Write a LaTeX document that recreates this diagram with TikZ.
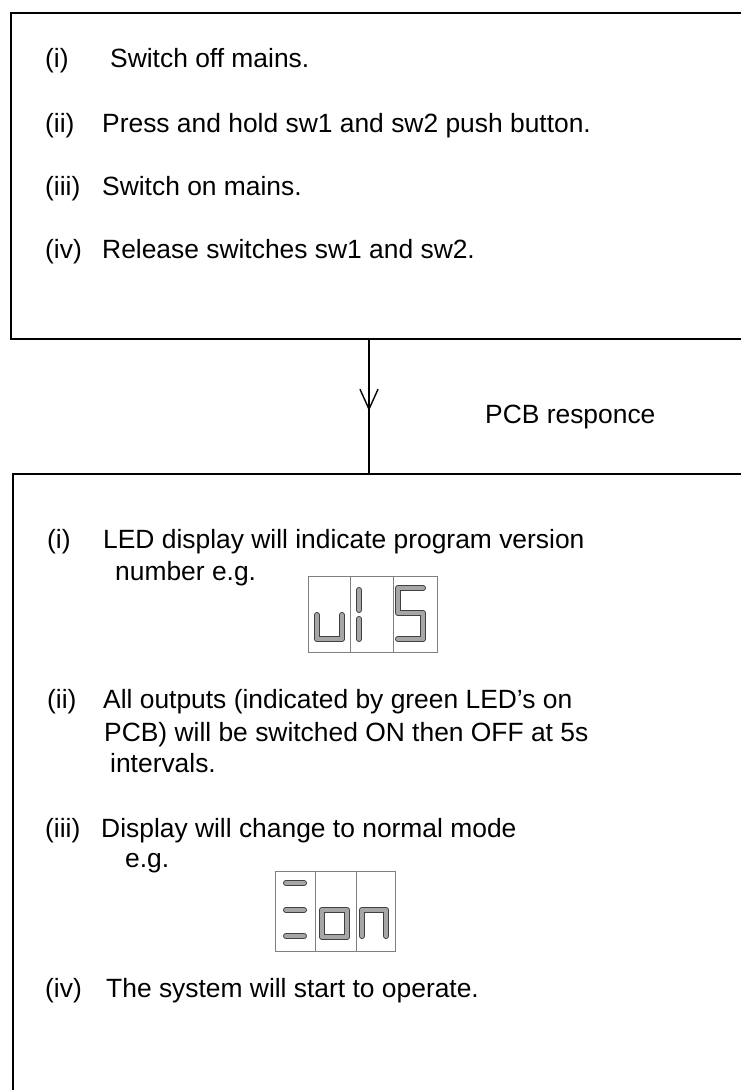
\documentclass[tikz,border=0pt]{standalone}
\usepackage{fontspec}
\setmainfont{Liberation Sans}
\usetikzlibrary{arrows.meta,decorations.markings}
\tikzset{
  panel/.style={draw,line width=1.5pt,anchor=north west,inner sep=0pt},
  itemno/.style={anchor=base west,inner sep=0pt},
  itemtxt/.style={anchor=base west,inner sep=0pt},
  flow/.style={line width=1.4pt,postaction={decorate},
    decoration={markings,mark=at position 0.535 with {\arrow{Straight Barb[length=20pt,width=18pt,line width=1.4pt]}}}},
  ledframe/.style={draw=black!50,line width=0.7pt},
  seg/.style={draw=black!75,line width=1pt,double=black!35,double distance=4pt,line cap=round,line join=round},
}
\begin{document}
\begin{tikzpicture}[x=1pt,y=-1pt]
  \useasboundingbox (0,0) rectangle (741,1090);
  \clip (0,0) rectangle (741,1090);
  \fontsize{26.4pt}{31pt}\selectfont

  % the two panels, open to the right
  \node[panel,minimum width=760pt,minimum height=326pt] (setup) at (10,12) {};
  \node[panel,minimum width=760pt,minimum height=640pt] (resp) at (12,473) {};

  % what the user does
  \node[itemno]  (s1n) at (45,67)   {(i)};
  \node[itemtxt] (s1)  at (110,67)  {Switch off mains.};
  \node[itemno]  (s2n) at (45,132)  {(ii)};
  \node[itemtxt] (s2)  at (102,132) {Press and hold sw1 and sw2 push button.};
  \node[itemno]  (s3n) at (45,195)  {(iii)};
  \node[itemtxt] (s3)  at (102,195) {Switch on mains.};
  \node[itemno]  (s4n) at (45,258)  {(iv)};
  \node[itemtxt] (s4)  at (102,258) {Release switches sw1 and sw2.};

  % link
  \coordinate (stem) at (369,0);
  \draw[flow] (setup.south -| stem) -- (resp.north -| stem);
  \node[itemtxt] (pcb) at (485,423) {PCB responce};

  % what the board does
  \node[itemno]  (r1n) at (47,548)  {(i)};
  \node[itemtxt] (r1a) at (103,548) {LED display will indicate program version};
  \node[itemtxt] (r1b) at (115,580) {number e.g.};
  \node[itemno]  (r2n) at (47,708)  {(ii)};
  \node[itemtxt] (r2a) at (103,708) {All outputs (indicated by green LED’s on};
  \node[itemtxt] (r2b) at (104,741) {PCB) will be switched ON then OFF at 5s};
  \node[itemtxt] (r2c) at (110,772) {intervals.};
  \node[itemno]  (r3n) at (45,837)  {(iii)};
  \node[itemtxt] (r3a) at (101,837) {Display will change to normal mode};
  \node[itemtxt] (r3b) at (125,867) {e.g.};
  \node[itemno]  (r4n) at (45,997)  {(iv)};
  \node[itemtxt] (r4)  at (106,997) {The system will start to operate.};

  % version display
  \draw[ledframe] (308,576) rectangle (437,652) (350,576) -- (350,652) (393,576) -- (393,652);
  \draw[seg] (317,615) -- (317,639) -- (342,639) -- (342,615);
  \draw[seg] (359,590) -- (359,610) (359,619) -- (359,639);
  \draw[seg] (423,588) -- (398,588) -- (398,613) -- (423,613) -- (423,639) -- (398,639);

  % normal mode display
  \draw[ledframe] (275,871) rectangle (395,951) (315,871) -- (315,951) (356,871) -- (356,951);
  \draw[seg] (286,883) -- (304,883) (286,910) -- (304,910) (286,936) -- (304,936);
  \draw[seg] (322,910) rectangle (347,937);
  \draw[seg] (362,936) -- (362,910) -- (386,910) -- (386,936);
\end{tikzpicture}
\end{document}
